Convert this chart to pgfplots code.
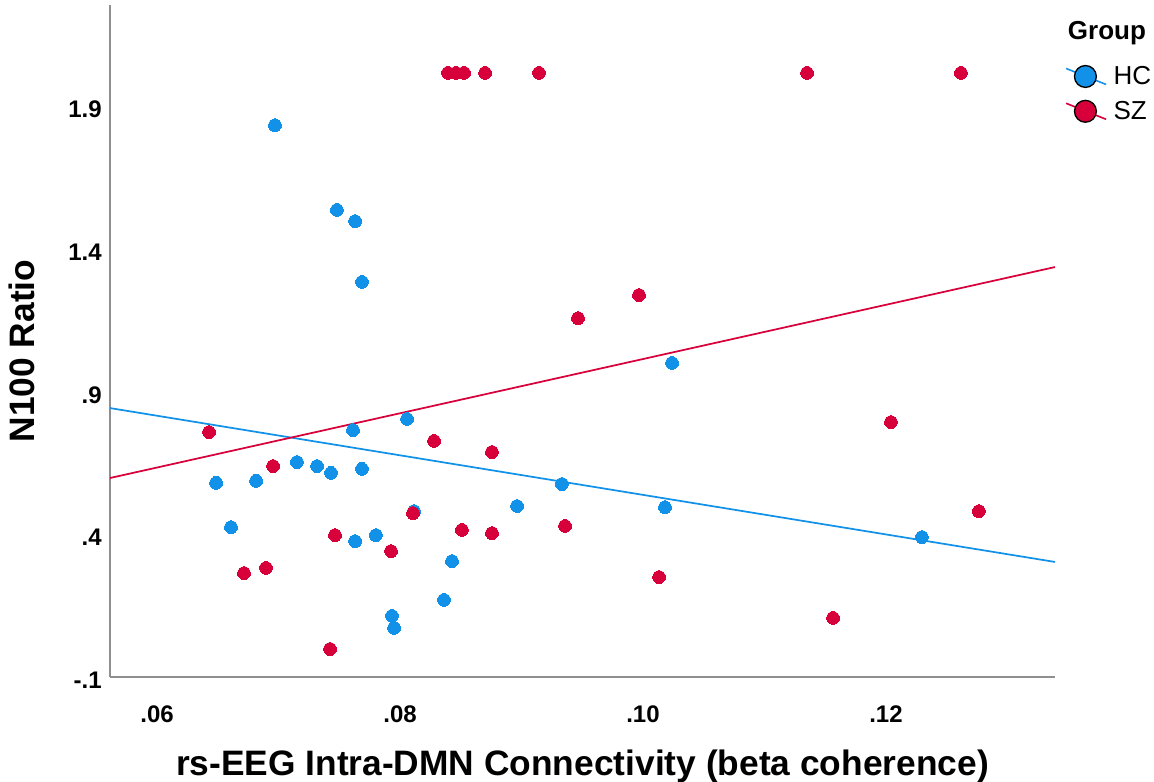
\documentclass[border=0pt]{standalone}
\usepackage{fontspec}
\setmainfont{Liberation Sans}
\usepackage{pgfplots}
\pgfplotsset{compat=1.18}

\definecolor{hcblue}{HTML}{1192E8}
\definecolor{szred}{HTML}{D7003A}
\definecolor{axisgray}{HTML}{8F8F8F}

% Healthy controls (HC)
\pgfplotstableread{
x        y
0.06971  1.833
0.07481  1.536
0.07630  1.497
0.07687  1.284
0.10239  1.000
0.07613  0.765
0.08058  0.804
0.06486  0.580
0.06815  0.587
0.07152  0.653
0.07317  0.639
0.07432  0.615
0.07687  0.629
0.06609  0.425
0.07630  0.376
0.07802  0.397
0.08115  0.481
0.08963  0.499
0.09333  0.576
0.10181  0.495
0.08428  0.306
0.08362  0.170
0.07934  0.114
0.07951  0.072
0.12296  0.390
}\hcdata

% Schizophrenia patients (SZ)
\pgfplotstableread{
x        y
0.06428  0.758
0.06955  0.639
0.06716  0.264
0.06897  0.282
0.07465  0.397
0.07424 -0.002
0.07926  0.341
0.08280  0.727
0.08757  0.688
0.08107  0.474
0.08510  0.415
0.08757  0.404
0.09358  0.429
0.10132  0.250
0.12041  0.793
0.12765  0.481
0.11564  0.107
0.09465  1.157
0.09967  1.238
0.08395  2.016
0.08461  2.016
0.08527  2.016
0.08700  2.016
0.09144  2.016
0.11350  2.016
0.12617  2.016
}\szdata

\newcommand{\legfont}{\fontsize{19.5}{22}\selectfont}

\begin{document}
\begin{tikzpicture}
\path[use as bounding box] (-82.5pt,-78.75pt) rectangle (783pt,507.75pt);
\begin{axis}[
  at={(0pt,0pt)}, anchor=south west,
  width=708.75pt, height=504pt, scale only axis,
  xmin=0.05613, xmax=0.13391,
  ymin=-0.1, ymax=2.254,
  clip=false,
  axis x line=bottom, axis y line=left,
  axis line style={axisgray, line width=1.5pt, -},
  major tick length=0pt,
  xtick={0.06,0.08,0.10,0.12},
  xticklabels={.06,.08,.10,.12},
  ytick={-0.1,0.4,0.9,1.4,1.9},
  yticklabels={-.1,.4,.9,1.4,1.9},
  /pgf/number format/assume math mode=true,
  tick label style={font=\fontsize{18}{21}\selectfont\bfseries},
  x tick label style={anchor=center, inner sep=0pt, yshift=-27.75pt},
  y tick label style={anchor=east, inner sep=0pt, xshift=-6pt, yshift=-2.5pt},
  xlabel={rs-EEG Intra-DMN Connectivity (beta coherence)},
  ylabel={N100 Ratio},
  label style={font=\fontsize{26.5}{30}\selectfont\bfseries},
  xlabel style={at={(axis description cs:0.5,-0.1324)}, anchor=center},
  ylabel style={at={(axis description cs:-0.0931,0.485)}, anchor=center},
  legend style={draw=none, fill=none, inner sep=0pt,
    at={(rel axis cs:1.0106,0.913)}, anchor=north west,
    font=\legfont, nodes={font=\legfont}, row sep=7pt,
    /tikz/every odd column/.append style={column sep=3pt}},
  legend cell align=left,
]
% linear fits per group
\addplot[hcblue, line width=1.3pt, forget plot] coordinates {(0.05613,0.842) (0.13391,0.303)};
\addplot[szred, line width=1.3pt, forget plot] coordinates {(0.05613,0.597) (0.13391,1.336)};

\addplot[only marks, mark=*, mark size=4.8pt, mark options={fill=hcblue, draw=hcblue, line width=0pt}, forget plot]
  table[x=x, y=y] {\hcdata};
\addplot[only marks, mark=*, mark size=4.8pt, mark options={fill=szred, draw=szred, line width=0pt}, forget plot]
  table[x=x, y=y] {\szdata};

\addlegendimage{legend image code/.code={
  \draw[hcblue, line width=1.2pt] (0pt,6pt) -- (30pt,-6pt);
  \draw[black, line width=1pt, fill=hcblue] (14.5pt,0pt) circle (8.2pt);}}
\addlegendentry{\legfont HC}
\addlegendimage{legend image code/.code={
  \draw[szred, line width=1.2pt] (0pt,6pt) -- (30pt,-6pt);
  \draw[black, line width=1pt, fill=szred] (14.5pt,0pt) circle (8.2pt);}}
\addlegendentry{\legfont SZ}

\node[font=\fontsize{19.5}{22}\selectfont\bfseries, anchor=center] at (rel axis cs:1.055,0.958) {Group};
\end{axis}
\end{tikzpicture}
\end{document}
